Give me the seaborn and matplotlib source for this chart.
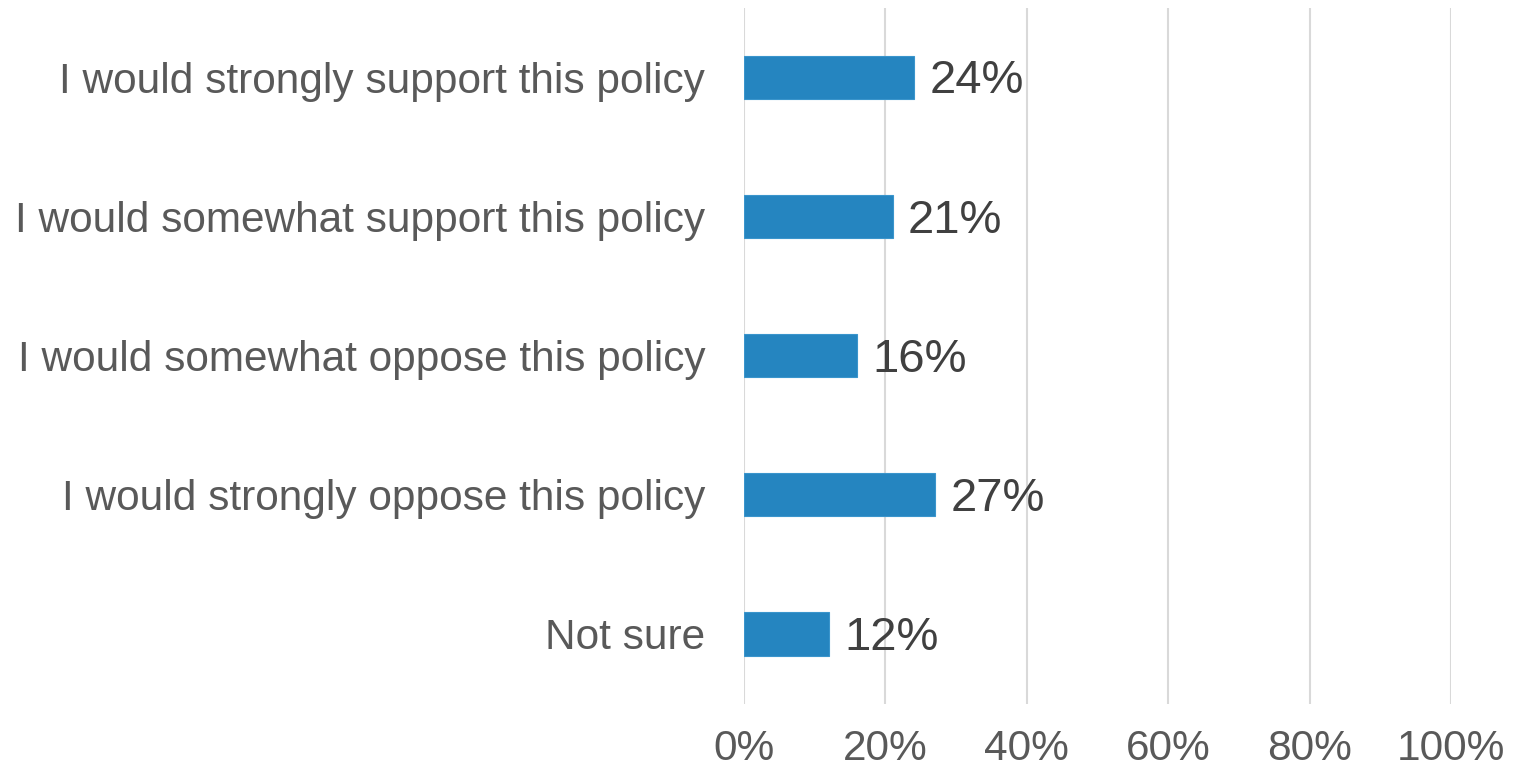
import pandas as pd
import matplotlib.pyplot as plt
import seaborn as sns

responses = [
    "I would strongly support this policy",
    "I would somewhat support this policy",
    "I would somewhat oppose this policy",
    "I would strongly oppose this policy",
    "Not sure",
]
shares = [24, 21, 16, 27, 12]
x_ticks = [0, 20, 40, 60, 80, 100]

data = pd.DataFrame({"response": responses, "share": shares})

sns.set_theme(style="white")
plt.rcParams["font.family"] = ["Liberation Sans", "DejaVu Sans"]

fig = plt.figure(figsize=(15.16, 7.71), dpi=100)
ax = fig.add_axes([0.4908, 0.0875, 0.4663, 0.9027])

sns.barplot(data=data, x="share", y="response", orient="h", color="#2585C0",
            saturation=1, width=0.31, edgecolor="#3a95cc", linewidth=0.8, ax=ax)

# value labels to the right of each bar
for i, v in enumerate(shares):
    ax.text(v + 2.2, i + 0.03, f"{v}%", va="center", ha="left",
            fontsize=34, color="#404040")

ax.set_xlim(0, 100)
ax.set_ylim(4.5, -0.5)
ax.set_xticks(x_ticks)
ax.set_xticklabels([f"{t}%" for t in x_ticks])
ax.set_xlabel("")
ax.set_ylabel("")
ax.grid(axis="x", color="#D9D9D9", linewidth=1.5)
ax.set_axisbelow(True)
for s in ax.spines.values():
    s.set_visible(False)
ax.tick_params(axis="x", length=0, pad=18, labelsize=30.5, labelcolor="#595959")
ax.tick_params(axis="y", length=0, pad=28, labelsize=30.5, labelcolor="#595959")

fig.savefig("out.png", dpi=100)
